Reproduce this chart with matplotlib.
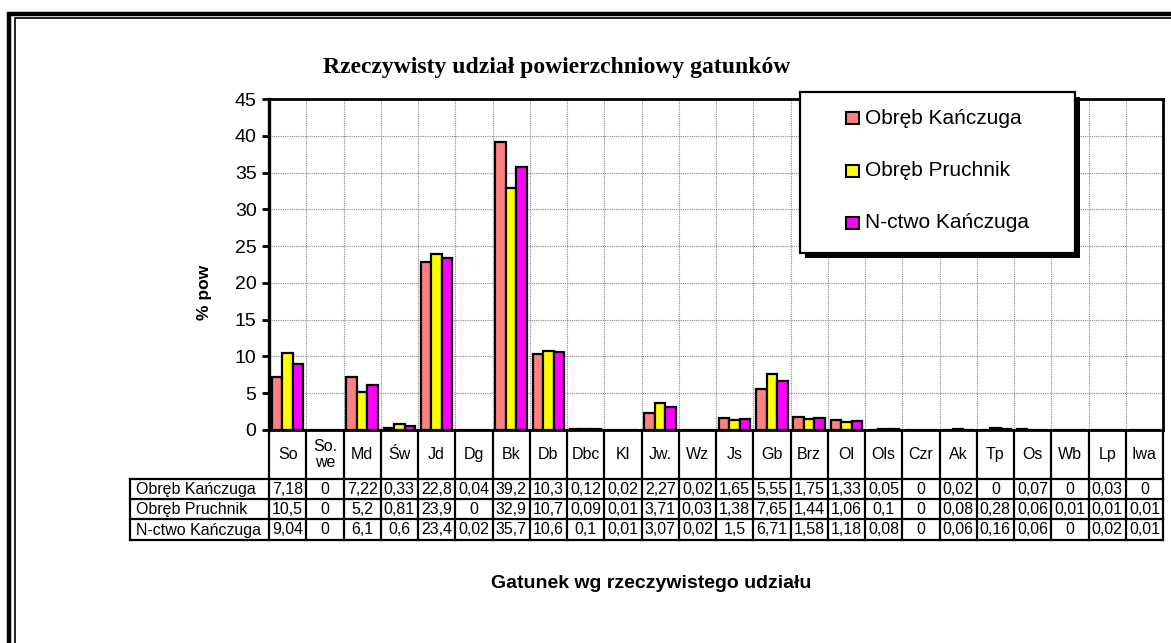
import matplotlib
matplotlib.use('Agg')
import matplotlib.pyplot as plt
import matplotlib.transforms as mtransforms
from matplotlib.patches import Rectangle
from matplotlib.lines import Line2D
import numpy as np

# ---------------- data ----------------
categories = ['So', 'So.\nwe', 'Md', 'Św', 'Jd', 'Dg', 'Bk', 'Db', 'Dbc', 'Kl', 'Jw.', 'Wz',
              'Js', 'Gb', 'Brz', 'Ol', 'Ols', 'Czr', 'Ak', 'Tp', 'Os', 'Wb', 'Lp', 'Iwa']
series_names = ['Obręb Kańczuga', 'Obręb Pruchnik', 'N-ctwo Kańczuga']
obreb_kanczuga = [7.18, 0, 7.22, 0.33, 22.8, 0.04, 39.2, 10.3, 0.12, 0.02, 2.27, 0.02,
                  1.65, 5.55, 1.75, 1.33, 0.05, 0, 0.02, 0, 0.07, 0, 0.03, 0]
obreb_pruchnik = [10.5, 0, 5.2, 0.81, 23.9, 0, 32.9, 10.7, 0.09, 0.01, 3.71, 0.03,
                  1.38, 7.65, 1.44, 1.06, 0.1, 0, 0.08, 0.28, 0.06, 0.01, 0.01, 0.01]
nctwo_kanczuga = [9.04, 0, 6.1, 0.6, 23.4, 0.02, 35.7, 10.6, 0.1, 0.01, 3.07, 0.02,
                  1.5, 6.71, 1.58, 1.18, 0.08, 0, 0.06, 0.16, 0.06, 0, 0.02, 0.01]
series_values = [obreb_kanczuga, obreb_pruchnik, nctwo_kanczuga]
colors = ['#FF8080', '#FFFF00', '#FF00FF']
yticks = [0, 5, 10, 15, 20, 25, 30, 35, 40, 45]
title = 'Rzeczywisty udział powierzchniowy gatunków'
ylabel = '% pow'
xlabel = 'Gatunek wg rzeczywistego udziału'

# ---------------- layout ----------------
W, H = 1171, 643
plt.rcParams['font.family'] = ['Liberation Sans', 'DejaVu Sans']
fig = plt.figure(figsize=(W / 100, H / 100), dpi=100)
px = mtransforms.Affine2D().scale(1 / W, -1 / H).translate(0, 1) + fig.transFigure

ax_l, ax_r, ax_t, ax_b = 269, 1163, 99, 430
ax = fig.add_axes([ax_l / W, (H - ax_b) / H, (ax_r - ax_l) / W, (ax_b - ax_t) / H])

n = len(categories)
x = np.arange(n)
bw = 0.28
for i, (vals, col, name) in enumerate(zip(series_values, colors, series_names)):
    ax.bar(x + (i - 1) * bw, vals, width=bw, color=col, edgecolor='black',
           linewidth=1.6, zorder=3, label=name)

ax.set_xlim(-0.5, n - 0.5)
ax.set_ylim(0, 45)
ax.set_yticks(yticks)
ax.set_yticklabels([str(t) for t in yticks], fontsize=14)
ax.set_xticks([])
ax.set_xticks(np.arange(n + 1) - 0.5, minor=True)
ax.tick_params(axis='x', which='both', length=0, labelbottom=False)
ax.tick_params(axis='y', direction='out', length=5, width=2, pad=4)
ax.grid(axis='y', which='major', color='#888888', linestyle=(0, (1, 1)), linewidth=0.8, zorder=0)
ax.grid(axis='x', which='minor', color='#888888', linestyle=(0, (1, 1)), linewidth=0.8, zorder=0)
for s in ax.spines.values():
    s.set_linewidth(2)
    s.set_color('black')
ax.spines['left'].set_linewidth(2.4)

# ---------------- table ----------------
tt = mtransforms.blended_transform_factory(ax.transData, px)
lbl_l = 130
rows_y = [479, 499, 519, 540]
lw_t = 1.6
for b in np.arange(n + 1) - 0.5:
    fig.add_artist(Line2D([b, b], [ax_b, rows_y[-1]], transform=tt, color='black', lw=lw_t))
fig.add_artist(Line2D([lbl_l, lbl_l], [rows_y[0], rows_y[-1]], transform=px, color='black', lw=lw_t))
for yy in rows_y:
    fig.add_artist(Line2D([lbl_l, ax_r], [yy, yy], transform=px, color='black', lw=lw_t))
for i, c in enumerate(categories):
    fig.text(i, (ax_b + rows_y[0]) / 2, c, transform=tt, ha='center', va='center',
             fontsize=11.5, linespacing=1.05)


def fmt(v):
    return f'{v:g}'.replace('.', ',')


for r, (name, vals) in enumerate(zip(series_names, series_values)):
    yc = (rows_y[r] + rows_y[r + 1]) / 2 + 0.5
    fig.text(lbl_l + 6, yc, name, transform=px, ha='left', va='center', fontsize=11.5)
    for i, v in enumerate(vals):
        fig.text(i, yc, fmt(v), transform=tt, ha='center', va='center', fontsize=11.5)

# ---------------- texts ----------------
fig.text(557, 68, title, transform=px, ha='center', va='center', fontsize=17,
         fontweight='bold', family=['Liberation Serif', 'DejaVu Serif'])
fig.text(205, 292, ylabel, transform=px, ha='center', va='center', fontsize=12.5,
         fontweight='bold', rotation=90)
fig.text(651, 583, xlabel, transform=px, ha='center', va='center', fontsize=14,
         fontweight='bold')

# ---------------- legend ----------------
lg_l, lg_t, lg_r, lg_b = 800, 92, 1075, 253
sh = 5
fig.add_artist(Rectangle((lg_l + sh, lg_b + sh), lg_r - lg_l, lg_t - lg_b, transform=px,
                         facecolor='black', edgecolor='black', lw=0, zorder=9))
fig.add_artist(Rectangle((lg_l, lg_b), lg_r - lg_l, lg_t - lg_b, transform=px,
                         facecolor='white', edgecolor='black', lw=1.6, zorder=10))
for k, (name, col) in enumerate(zip(series_names, colors)):
    yc = 118 + k * 52.5
    fig.add_artist(Rectangle((846, yc + 6), 13, -12, transform=px, facecolor=col,
                             edgecolor='black', lw=1.5, zorder=11))
    fig.text(865, yc, name, transform=px, ha='left', va='center', fontsize=15, zorder=11)

# ---------------- outer double border ----------------
fig.add_artist(Rectangle((9, 1200), 1400, -1186, transform=px, fill=False,
                         edgecolor='black', lw=3.2, zorder=20))
fig.add_artist(Rectangle((14.5, 1200), 1400, -1182, transform=px, fill=False,
                         edgecolor='black', lw=1.2, zorder=20))

fig.savefig('out.png', dpi=100)
